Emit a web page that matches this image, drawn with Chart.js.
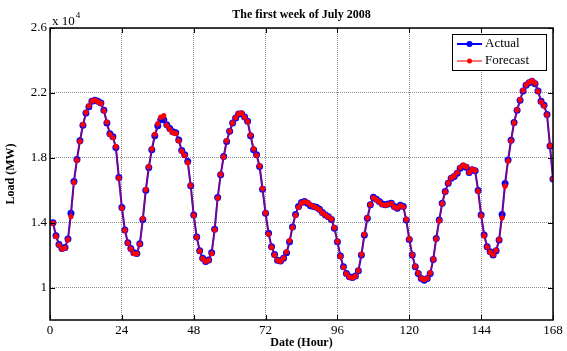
<!DOCTYPE html>
<html>
<head>
<meta charset="utf-8">
<script src="https://cdn.jsdelivr.net/npm/chart.js@4.4.1/dist/chart.umd.min.js"></script>
<style>
  html, body { margin: 0; padding: 0; background: #fff; }
  #wrap { width: 567px; height: 351px; }
</style>
</head>
<body>
<div id="wrap"><canvas id="chart" width="567" height="351"></canvas></div>
<script>
// ============================
// DATA (load in MW, hourly, first week of July 2008)
// ============================
const chartTitle = "The first week of July 2008";
const hours = Array.from({ length: 168 }, (_, i) => i + 1);
const xTicks = [0, 24, 48, 72, 96, 120, 144, 168];
const yTicks = [10000, 14000, 18000, 22000, 26000];

const actual = [
  14000,13200,12660,12410,12470,13000,14580,16540,17900,19050,
  20000,20760,21150,21480,21550,21480,21380,20930,20140,19480,
  19300,18640,16780,14940,13550,12760,12410,12140,12100,12700,
  14200,16000,17400,18500,19360,19980,20350,20350,20040,19800,
  19600,19550,19100,18450,18180,17770,16270,14470,13120,12270,
  11800,11600,11700,12140,13590,15550,16950,18080,19000,19630,
  20140,20450,20700,20720,20520,20250,19360,18500,18180,17460,
  16060,14580,13340,12520,12040,11690,11630,11800,12140,12820,
  13740,14500,15000,15250,15300,15200,15050,15000,14950,14820,
  14620,14470,14370,14200,13650,12830,11940,11280,10870,10660,
  10620,10720,11030,12000,13240,14270,15100,15570,15450,15300,
  15150,15100,15150,15200,15000,14890,15070,15000,14160,12970,
  12000,11280,10870,10560,10450,10560,10870,11730,13030,14160,
  15200,15920,16430,16740,16850,17050,17360,17500,17420,17090,
  17260,17200,15980,14470,13240,12520,12200,12000,12270,12930,
  14500,16420,17870,19080,20180,20930,21550,22120,22470,22620,
  22720,22570,22120,21490,21240,20670,18720,16690
];

const forecast = [
  13980,13150,12620,12380,12450,12950,14380,16480,17850,19020,
  20050,20800,21200,21500,21560,21460,21350,20900,20200,19450,
  19250,18700,16750,14900,13530,12740,12380,12100,12080,12680,
  14250,16050,17450,18550,19450,20100,20500,20600,20000,19750,
  19550,19500,19050,18400,18150,17700,16300,14450,13100,12250,
  11780,11620,11680,12100,13560,15520,16980,18050,19050,19650,
  20150,20480,20720,20750,20500,20230,19400,18550,18150,17500,
  16100,14600,13300,12480,12000,11680,11620,11820,12200,12900,
  13700,14450,14950,15200,15300,15250,15100,15000,14920,14800,
  14600,14480,14350,14220,13700,12850,11920,11250,10850,10650,
  10600,10700,11050,12050,13280,14300,15120,15550,15420,15280,
  15120,15080,15130,15180,14980,14900,15050,14980,14200,13000,
  12020,11300,10900,10580,10480,10580,10900,11750,13000,14120,
  15180,15900,16450,16760,16880,17080,17400,17550,17450,17100,
  17300,17220,15950,14420,13200,12500,12180,12020,12300,12950,
  14300,16250,17800,19050,20150,20950,21580,22150,22500,22650,
  22750,22600,22100,21450,21200,20650,18750,16700
];

const SERIF = '"Liberation Serif", "Times New Roman", serif';

// ============================
// FRAME / LEGEND / LABELS PLUGIN
// ============================
const decorations = {
  id: "decorations",
  afterDraw(chart) {
    const { ctx, chartArea: a, scales: { x, y } } = chart;
    ctx.save();

    // inward tick marks on all four sides
    ctx.strokeStyle = "#000";
    ctx.lineWidth = 1;
    ctx.beginPath();
    xTicks.forEach(v => {
      const px = Math.round(x.getPixelForValue(v)) + 0.5;
      ctx.moveTo(px, a.bottom); ctx.lineTo(px, a.bottom - 5);
      ctx.moveTo(px, a.top); ctx.lineTo(px, a.top + 5);
    });
    yTicks.forEach(v => {
      const py = Math.round(y.getPixelForValue(v)) + 0.5;
      ctx.moveTo(a.left, py); ctx.lineTo(a.left + 5, py);
      ctx.moveTo(a.right, py); ctx.lineTo(a.right - 5, py);
    });
    ctx.stroke();

    // box
    ctx.lineWidth = 1.5;
    ctx.strokeRect(a.left, a.top, a.right - a.left, a.bottom - a.top);

    // title
    ctx.fillStyle = "#000";
    ctx.font = "bold 12px " + SERIF;
    ctx.textAlign = "center";
    ctx.textBaseline = "middle";
    ctx.fillText(chartTitle, (a.left + a.right) / 2, 15);

    // exponent label
    ctx.textAlign = "left";
    ctx.textBaseline = "alphabetic";
    ctx.font = "13px " + SERIF;
    ctx.fillText("x 10", a.left + 2, a.top - 3);
    const w = ctx.measureText("x 10").width;
    ctx.font = "9px " + SERIF;
    ctx.fillText("4", a.left + 2 + w + 1, a.top - 10);

    // legend
    const lx = 452, ly = 34, lw = 94, lh = 36;
    ctx.fillStyle = "#fff";
    ctx.fillRect(lx, ly, lw, lh);
    ctx.strokeStyle = "#000";
    ctx.lineWidth = 1;
    ctx.strokeRect(lx + 0.5, ly + 0.5, lw, lh);
    chart.data.datasets.forEach((ds, i) => {
      const cy = ly + 10 + i * 17;
      ctx.strokeStyle = ds.legendLine;
      ctx.lineWidth = 2;
      ctx.beginPath();
      ctx.moveTo(lx + 5, cy); ctx.lineTo(lx + 30, cy);
      ctx.stroke();
      ctx.fillStyle = ds.pointBackgroundColor;
      ctx.beginPath();
      ctx.arc(lx + 17.5, cy, ds.legendDot, 0, Math.PI * 2);
      ctx.fill();
      ctx.fillStyle = "#000";
      ctx.font = "13px " + SERIF;
      ctx.textBaseline = "middle";
      ctx.fillText(ds.label, lx + 33, cy);
    });
    ctx.restore();
  }
};

// ============================
// CHART
// ============================
new Chart(document.getElementById("chart"), {
  type: "line",
  data: {
    datasets: [
      {
        label: "Actual",
        order: 1,
        data: hours.map((h, i) => ({ x: h, y: actual[i] })),
        borderColor: "#0000ff",
        borderWidth: 2,
        legendLine: "#0000ff",
        legendDot: 3,
        pointRadius: 3.5,
        pointBackgroundColor: "#0000ff",
        pointBorderColor: "#0000ff",
        pointBorderWidth: 0,
        tension: 0
      },
      {
        label: "Forecast",
        order: 0,
        data: hours.map((h, i) => ({ x: h, y: forecast[i] })),
        borderColor: "rgba(255,0,0,0.55)",
        borderWidth: 1.5,
        legendLine: "rgba(255,60,60,0.7)",
        legendDot: 2.5,
        pointRadius: 2.6,
        pointBackgroundColor: "#ff0000",
        pointBorderColor: "#ff0000",
        pointBorderWidth: 0,
        tension: 0
      }
    ]
  },
  options: {
    responsive: false,
    animation: false,
    events: [],
    layout: { padding: { left: 0, right: 14, top: 28, bottom: 0 } },
    plugins: {
      legend: { display: false },
      title: { display: false },
      tooltip: { enabled: false }
    },
    scales: {
      x: {
        type: "linear",
        min: 0,
        max: 168,
        afterBuildTicks: s => { s.ticks = xTicks.map(v => ({ value: v })); },
        afterFit: s => { s.height = 31; },
        ticks: {
          color: "#000",
          padding: 3,
          maxRotation: 0,
          autoSkip: false,
          font: { family: SERIF, size: 13 }
        },
        grid: { color: "rgba(0,0,0,0.45)", lineWidth: 1, drawTicks: false },
        border: { display: false, dash: [1, 1] },
        title: {
          display: true,
          text: "Date (Hour)",
          color: "#000",
          font: { family: SERIF, size: 12, weight: "bold" },
          padding: { top: 0, bottom: 1 }
        }
      },
      y: {
        min: 8000,
        max: 26000,
        afterBuildTicks: s => { s.ticks = yTicks.map(v => ({ value: v })); },
        afterFit: s => { s.width = 50; },
        ticks: {
          color: "#000",
          padding: 3,
          font: { family: SERIF, size: 13 },
          callback: v => String(v / 10000)
        },
        grid: { color: "rgba(0,0,0,0.45)", lineWidth: 1, drawTicks: false },
        border: { display: false, dash: [1, 1] },
        title: {
          display: true,
          text: "Load (MW)",
          color: "#000",
          font: { family: SERIF, size: 12, weight: "bold" },
          padding: { top: 4, bottom: 0 }
        }
      }
    }
  },
  plugins: [decorations]
});
</script>
</body>
</html>
